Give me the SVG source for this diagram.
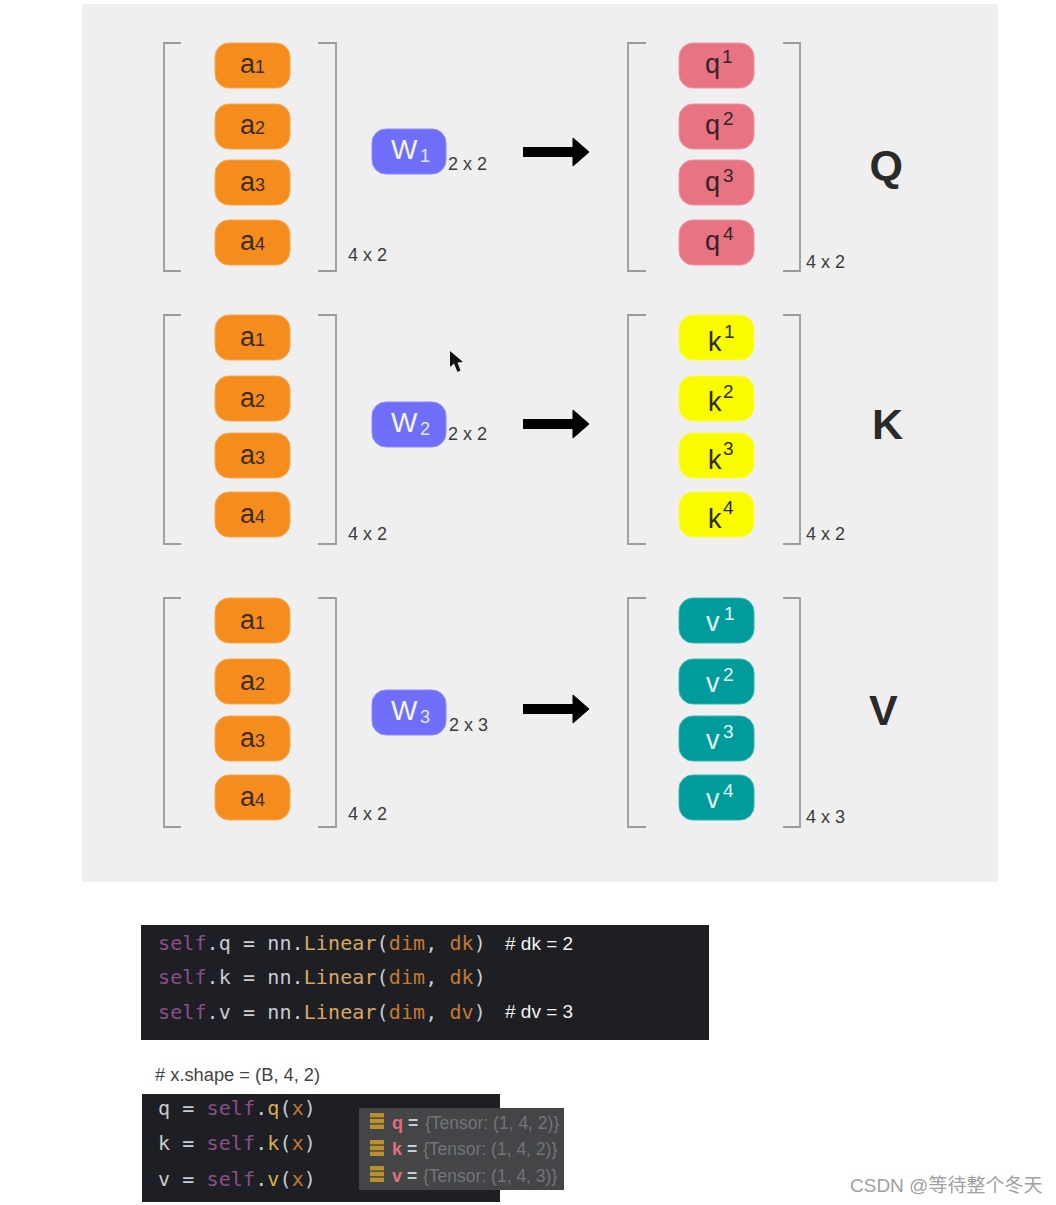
<svg xmlns="http://www.w3.org/2000/svg" width="1056" height="1205" viewBox="0 0 1056 1205">
<style>
text{font-family:"Liberation Sans",Arial,sans-serif}
.br{fill:none;stroke:#9b9b9b;stroke-width:1.8}
.p{stroke-width:1}
.o{fill:#f58d1e;stroke:#f8a94f}
.r{fill:#e87383;stroke:#ee93a0}
.y{fill:#fbfb00;stroke:#fbfb50}
.t{fill:#009c9c;stroke:#3ab4b4}
.w{fill:#6e6ef8;stroke:#8c8cfa}
.l{font-size:27px;fill:#3f2c14}
.n{font-size:18px}
.sup{font-size:19px}
.lq{fill:#33252b}.lk{fill:#2a2a00}.lv{fill:#e4f4f4}
.wt{font-size:28px;fill:#f6f6ff}
.wn{font-size:18px;fill:#e6e6ff}
.d{font-size:18px;fill:#3c3c3c}
.B{font-size:43px;font-weight:bold;fill:#2a2a2a}
.arrow{stroke:#000;stroke-width:10;fill:none;marker-end:url(#ah)}
.c{font-family:"DejaVu Sans Mono","Liberation Mono",monospace;font-size:20px;letter-spacing:.1px;fill:#c9ccd1}
.s{fill:#8b4f88}.m{fill:#d9a860}.a{fill:#c47a30}.g{fill:#d8b04c}
.cm{font-size:19px;fill:#f2f2f2}
.h{font-size:18.3px;fill:#444}
.i{font-size:17.5px;fill:#737578}
.ik{fill:#e0707a;font-weight:bold;font-size:18px}.e{fill:#c9ccd1;font-weight:bold}
.bar{fill:#b8902e}
.wm{font-family:"Liberation Sans","Noto Sans CJK SC",sans-serif;font-size:19px;fill:#a0a0a0}
</style>
<defs>
<marker id="ah" markerUnits="userSpaceOnUse" markerWidth="20" markerHeight="32" refX="1" refY="16" orient="auto"><path d="M1 2L17 16L1 30Z" fill="#000" stroke="#000" stroke-width="1" stroke-linejoin="round"/></marker>
<g id="ic"><rect class="bar" x="0" y="0" width="14" height="4.400"/><rect class="bar" x="0" y="5.800" width="14" height="4.400"/><rect class="bar" x="0" y="11.600" width="14" height="4.400"/></g>
</defs>
<rect id="panel" x="82" y="4" width="916" height="878" fill="#efefef"/>

<g id="brackets">
<path class="br" d="M181 43H164V271H181M318 43H336V271H318"/>
<path class="br" d="M646 43H628V271H646M783 43H800V271H783"/>
<path class="br" d="M181 315H164V544H181M318 315H336V544H318"/>
<path class="br" d="M646 315H628V544H646M783 315H800V544H783"/>
<path class="br" d="M181 598H164V827H181M318 598H336V827H318"/>
<path class="br" d="M646 598H628V827H646M783 598H800V827H783"/>
</g>

<g id="connectors">
<line class="arrow" x1="523" y1="152" x2="573" y2="152"/>
<line class="arrow" x1="523" y1="424" x2="573" y2="424"/>
<line class="arrow" x1="523" y1="709" x2="573" y2="709"/>
</g>

<g id="a1-q"><rect class="p o" x="215" y="43" width="75" height="45" rx="14"/><text class="l" x="240" y="73">a<tspan class="n">1</tspan></text></g>
<g id="a2-q"><rect class="p o" x="215" y="104" width="75" height="45" rx="14"/><text class="l" x="240" y="134">a<tspan class="n">2</tspan></text></g>
<g id="a3-q"><rect class="p o" x="215" y="160" width="75" height="45" rx="14"/><text class="l" x="240" y="191">a<tspan class="n">3</tspan></text></g>
<g id="a4-q"><rect class="p o" x="215" y="220" width="75" height="45" rx="14"/><text class="l" x="240" y="250">a<tspan class="n">4</tspan></text></g>

<g id="a1-k"><rect class="p o" x="215" y="315" width="75" height="45" rx="14"/><text class="l" x="240" y="346">a<tspan class="n">1</tspan></text></g>
<g id="a2-k"><rect class="p o" x="215" y="376" width="75" height="45" rx="14"/><text class="l" x="240" y="407">a<tspan class="n">2</tspan></text></g>
<g id="a3-k"><rect class="p o" x="215" y="433" width="75" height="45" rx="14"/><text class="l" x="240" y="464">a<tspan class="n">3</tspan></text></g>
<g id="a4-k"><rect class="p o" x="215" y="492" width="75" height="45" rx="14"/><text class="l" x="240" y="523">a<tspan class="n">4</tspan></text></g>

<g id="a1-v"><rect class="p o" x="215" y="598" width="75" height="45" rx="14"/><text class="l" x="240" y="629">a<tspan class="n">1</tspan></text></g>
<g id="a2-v"><rect class="p o" x="215" y="659" width="75" height="45" rx="14"/><text class="l" x="240" y="690">a<tspan class="n">2</tspan></text></g>
<g id="a3-v"><rect class="p o" x="215" y="716" width="75" height="45" rx="14"/><text class="l" x="240" y="747">a<tspan class="n">3</tspan></text></g>
<g id="a4-v"><rect class="p o" x="215" y="775" width="75" height="45" rx="14"/><text class="l" x="240" y="806">a<tspan class="n">4</tspan></text></g>

<g id="w1"><rect class="p w" x="372" y="129" width="74" height="45" rx="14"/><text class="wt" x="391" y="159">W</text><text class="wn" x="420" y="162">1</text></g>
<g id="w2"><rect class="p w" x="372" y="402" width="74" height="45" rx="14"/><text class="wt" x="391" y="432">W</text><text class="wn" x="420" y="435">2</text></g>
<g id="w3"><rect class="p w" x="372" y="690" width="74" height="45" rx="14"/><text class="wt" x="391" y="720">W</text><text class="wn" x="420" y="723">3</text></g>

<g id="q1"><rect class="p r" x="679" y="43" width="75" height="45" rx="14"/><text class="l lq" x="705" y="73">q</text><text class="sup lq" x="722" y="63">1</text></g>
<g id="q2"><rect class="p r" x="679" y="104" width="75" height="45" rx="14"/><text class="l lq" x="705" y="134">q</text><text class="sup lq" x="723" y="125">2</text></g>
<g id="q3"><rect class="p r" x="679" y="160" width="75" height="45" rx="14"/><text class="l lq" x="705" y="191">q</text><text class="sup lq" x="723" y="182">3</text></g>
<g id="q4"><rect class="p r" x="679" y="220" width="75" height="45" rx="14"/><text class="l lq" x="705" y="250">q</text><text class="sup lq" x="723" y="240">4</text></g>

<g id="k1"><rect class="p y" x="679" y="315" width="75" height="45" rx="14"/><text class="l lk" x="708" y="351">k</text><text class="sup lk" x="724" y="338">1</text></g>
<g id="k2"><rect class="p y" x="679" y="376" width="75" height="45" rx="14"/><text class="l lk" x="708" y="411">k</text><text class="sup lk" x="723" y="398">2</text></g>
<g id="k3"><rect class="p y" x="679" y="433" width="75" height="45" rx="14"/><text class="l lk" x="708" y="469">k</text><text class="sup lk" x="723" y="455">3</text></g>
<g id="k4"><rect class="p y" x="679" y="492" width="75" height="45" rx="14"/><text class="l lk" x="708" y="528">k</text><text class="sup lk" x="723" y="514">4</text></g>

<g id="v1"><rect class="p t" x="679" y="598" width="75" height="45" rx="14"/><text class="l lv" x="706" y="631">v</text><text class="sup lv" x="724" y="620">1</text></g>
<g id="v2"><rect class="p t" x="679" y="659" width="75" height="45" rx="14"/><text class="l lv" x="706" y="692">v</text><text class="sup lv" x="723" y="681">2</text></g>
<g id="v3"><rect class="p t" x="679" y="716" width="75" height="45" rx="14"/><text class="l lv" x="706" y="749">v</text><text class="sup lv" x="723" y="738">3</text></g>
<g id="v4"><rect class="p t" x="679" y="775" width="75" height="45" rx="14"/><text class="l lv" x="706" y="808">v</text><text class="sup lv" x="723" y="797">4</text></g>

<g id="dims">
<text class="d" x="448" y="170">2 x 2</text>
<text class="d" x="348" y="261">4 x 2</text>
<text class="d" x="806" y="268">4 x 2</text>
<text class="d" x="448" y="440">2 x 2</text>
<text class="d" x="348" y="540">4 x 2</text>
<text class="d" x="806" y="540">4 x 2</text>
<text class="d" x="449" y="731">2 x 3</text>
<text class="d" x="348" y="820">4 x 2</text>
<text class="d" x="806" y="823">4 x 3</text>
</g>

<g id="labels">
<text class="B" x="869.500" y="180">Q</text>
<text class="B" x="872" y="439">K</text>
<text class="B" x="869" y="725">V</text>
</g>

<path id="cursor" d="M450 351L450 367L454 363.500L457.500 372L460.500 370.500L457.500 362.500L463 362Z" fill="#111"/>

<g id="code1">
<rect x="141" y="925" width="568" height="115" fill="#1e1f24"/>
<text class="c" x="158" y="950"><tspan class="s">self</tspan>.q = nn.<tspan class="m">Linear</tspan>(<tspan class="a">dim</tspan>, <tspan class="a">dk</tspan>)</text>
<text class="c" x="158" y="984"><tspan class="s">self</tspan>.k = nn.<tspan class="m">Linear</tspan>(<tspan class="a">dim</tspan>, <tspan class="a">dk</tspan>)</text>
<text class="c" x="158" y="1019"><tspan class="s">self</tspan>.v = nn.<tspan class="m">Linear</tspan>(<tspan class="a">dim</tspan>, <tspan class="a">dv</tspan>)</text>
<text class="cm" x="505" y="950"># dk = 2</text>
<text class="cm" x="505" y="1018"># dv = 3</text>
</g>

<g id="code2">
<text class="h" x="155" y="1081"># x.shape = (B, 4, 2)</text>
<rect x="142" y="1094" width="358" height="108" fill="#1e1f24"/>
<text class="c" x="158" y="1115">q = <tspan class="s">self</tspan>.<tspan class="g">q</tspan>(<tspan class="a">x</tspan>)</text>
<text class="c" x="158" y="1150">k = <tspan class="s">self</tspan>.<tspan class="g">k</tspan>(<tspan class="a">x</tspan>)</text>
<text class="c" x="158" y="1186">v = <tspan class="s">self</tspan>.<tspan class="g">v</tspan>(<tspan class="a">x</tspan>)</text>
</g>

<g id="tooltip">
<rect x="359" y="1108" width="205" height="82" fill="#434547"/>
<use href="#ic" x="370" y="1113"/>
<use href="#ic" x="370" y="1140"/>
<use href="#ic" x="370" y="1166"/>
<text class="i" y="1129"><tspan class="ik" x="392">q</tspan><tspan class="e" x="408">=</tspan><tspan x="425">{Tensor: (1, 4, 2)}</tspan></text>
<text class="i" y="1155"><tspan class="ik" x="392">k</tspan><tspan class="e" x="407">=</tspan><tspan x="423">{Tensor: (1, 4, 2)}</tspan></text>
<text class="i" y="1182"><tspan class="ik" x="392">v</tspan><tspan class="e" x="407">=</tspan><tspan x="423">{Tensor: (1, 4, 3)}</tspan></text>
</g>

<text id="watermark" class="wm" x="850" y="1192">CSDN @等待整个冬天</text>
</svg>
